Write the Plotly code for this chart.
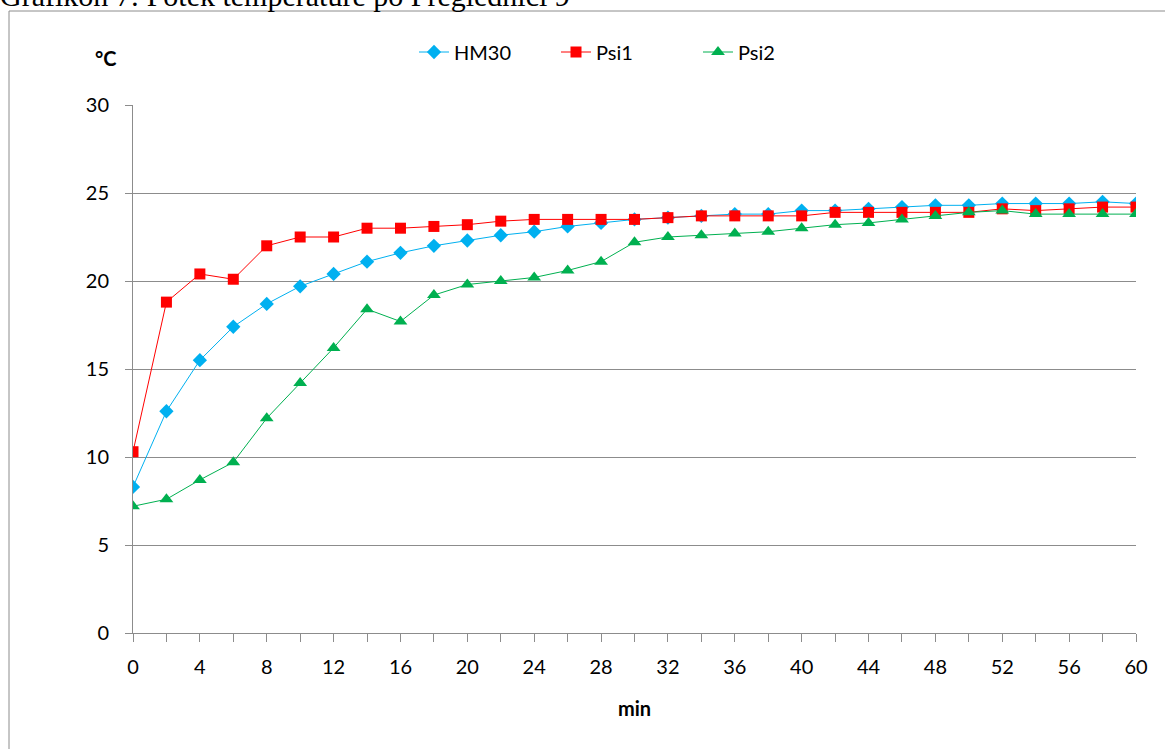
import plotly.graph_objects as go

minutes = list(range(0, 61, 2))

hm30 = [8.3, 12.6, 15.5, 17.4, 18.7, 19.7, 20.4, 21.1, 21.6, 22.0, 22.3,
        22.6, 22.8, 23.1, 23.3, 23.5, 23.6, 23.7, 23.8, 23.8, 24.0, 24.0,
        24.1, 24.2, 24.3, 24.3, 24.4, 24.4, 24.4, 24.5, 24.4]
psi1 = [10.3, 18.8, 20.4, 20.1, 22.0, 22.5, 22.5, 23.0, 23.0, 23.1, 23.2,
        23.4, 23.5, 23.5, 23.5, 23.5, 23.6, 23.7, 23.7, 23.7, 23.7, 23.9,
        23.9, 23.9, 23.9, 23.9, 24.1, 24.0, 24.1, 24.2, 24.2]
psi2 = [7.2, 7.6, 8.7, 9.7, 12.2, 14.2, 16.2, 18.4, 17.7, 19.2, 19.8,
        20.0, 20.2, 20.6, 21.1, 22.2, 22.5, 22.6, 22.7, 22.8, 23.0, 23.2,
        23.3, 23.5, 23.7, 23.9, 24.0, 23.8, 23.8, 23.8, 23.8]

x_ticks = list(range(0, 61, 4))
y_ticks = list(range(0, 31, 5))

title_text = "Grafikon 7: Potek temperature po Preglednici 9"
font_main = "Lato, 'Open Sans', sans-serif"
axis_grey = "#8c8c8c"

# plot area: 1003 x 528 px, starting at (133, 105)
PW, PH, L, T = 1003, 528, 133, 105


def px_x(px):
    return (px - L) / PW


def px_y(py):
    return 1 + (T - py) / PH


fig = go.Figure()
fig.add_trace(go.Scatter(
    x=minutes, y=hm30, name="HM30", mode="lines+markers",
    line=dict(color="#00B0F0", width=1),
    marker=dict(symbol="diamond", size=11, color="#00B0F0")))
fig.add_trace(go.Scatter(
    x=minutes, y=psi1, name="Psi1", mode="lines+markers",
    line=dict(color="#FF0000", width=1),
    marker=dict(symbol="square", size=11, color="#FF0000")))
fig.add_trace(go.Scatter(
    x=minutes, y=psi2, name="Psi2", mode="lines+markers",
    line=dict(color="#00B050", width=1),
    marker=dict(symbol="triangle-up", size=12, color="#00B050")))

fig.update_layout(
    width=1165, height=749,
    margin=dict(l=L, r=1165 - L - PW, t=T, b=749 - T - PH),
    paper_bgcolor="white", plot_bgcolor="white",
    font=dict(family=font_main, size=20, color="black"),
    showlegend=True,
    legend=dict(orientation="h", x=px_x(414), xanchor="left",
                y=px_y(52), yanchor="middle",
                font=dict(size=20), entrywidth=97, entrywidthmode="pixels",
                bgcolor="rgba(0,0,0,0)"),
    xaxis=dict(
        range=[0, 60], tickmode="array", tickvals=x_ticks,
        ticktext=[str(v) for v in x_ticks],
        showgrid=False, zeroline=False,
        showline=True, linecolor=axis_grey, linewidth=1,
        ticks="outside", ticklen=8, tickcolor=axis_grey,
        ticklabelstandoff=8,
        minor=dict(dtick=2, ticks="outside", ticklen=8, tickcolor=axis_grey),
        title=dict(text="<b>min</b>", font=dict(size=20), standoff=24),
        tickfont=dict(size=20),
    ),
    yaxis=dict(
        range=[0, 30], tickmode="array", tickvals=y_ticks,
        showgrid=True, gridcolor=axis_grey, gridwidth=1,
        zeroline=False, showline=True, linecolor=axis_grey, linewidth=1,
        ticks="outside", ticklen=7, tickcolor=axis_grey,
        ticklabelstandoff=12,
        tickfont=dict(size=20),
    ),
    shapes=[
        dict(type="rect", xref="paper", yref="paper",
             x0=px_x(9), x1=px_x(1175), y0=px_y(760), y1=px_y(11),
             line=dict(color=axis_grey, width=1), fillcolor="rgba(0,0,0,0)",
             layer="below"),
    ],
    annotations=[
        dict(text="<b>°C</b>", xref="paper", yref="paper",
             x=px_x(106), y=px_y(58),
             xanchor="center", yanchor="middle", showarrow=False,
             font=dict(size=20)),
        dict(text=title_text, xref="paper", yref="paper",
             x=px_x(-2), y=px_y(14),
             xanchor="left", yanchor="bottom", showarrow=False,
             font=dict(family="'Liberation Serif', serif", size=30)),
    ],
)

fig.write_html("out.html")
